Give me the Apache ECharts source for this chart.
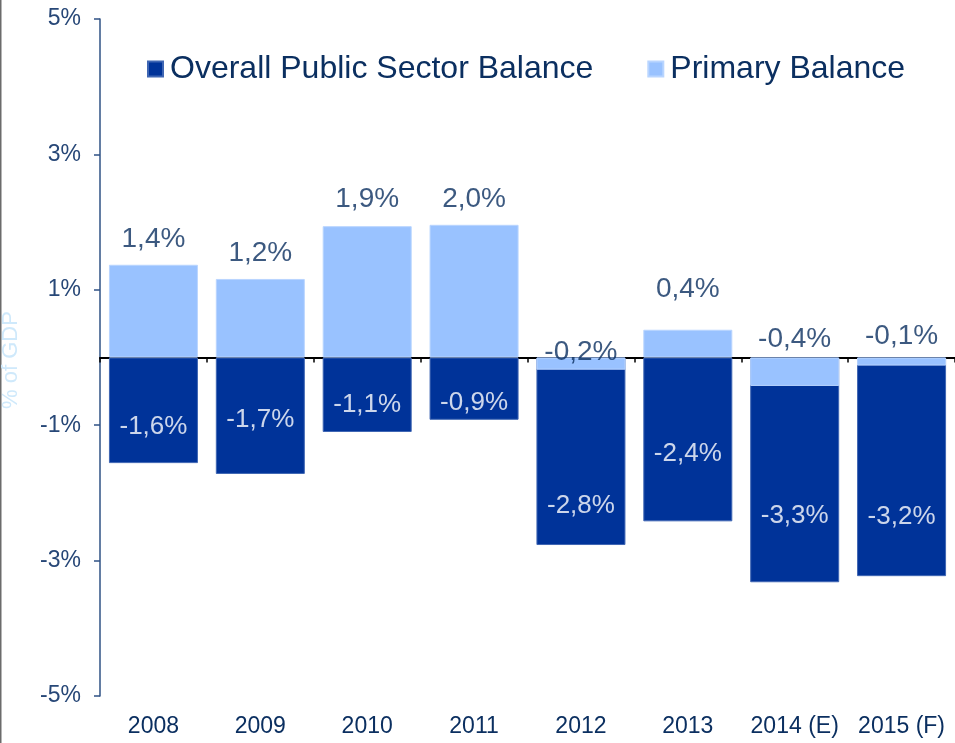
<!DOCTYPE html>
<html>
<head>
<meta charset="utf-8">
<script src="https://cdn.jsdelivr.net/npm/echarts@6/dist/echarts.min.js"></script>
<style>
html,body{margin:0;padding:0;background:#fff;}
#chart{width:955px;height:743px;}
</style>
</head>
<body>
<div id="chart"></div>
<script>
// ---- data ----
var categories = ['2008', '2009', '2010', '2011', '2012', '2013', '2014 (E)', '2015 (F)'];
var overallBalance = [-1.56, -1.72, -1.10, -0.92, -2.77, -2.42, -3.32, -3.23];
var primaryBalance = [1.37, 1.16, 1.94, 1.96, -0.18, 0.41, -0.42, -0.12];
// where each value label sits (in % of GDP)
var overallLabelAt = [-1.03, -0.92, -0.70, -0.67, -2.19, -1.43, -2.34, -2.36];
var primaryLabelAt = [1.75, 1.54, 2.33, 2.33, 0.08, 1.01, 0.27, 0.32];
var yTicks = { min: -5, max: 5, step: 2 };
var seriesNames = ['Overall Public Sector Balance', 'Primary Balance'];

function fmt(v) { return v.toFixed(1).replace('.', ',') + '%'; }

var FONT = '"Liberation Sans", Arial, sans-serif';
var NAVY = '#0b2f60';
var DARK = '#003399';
var LIGHT = '#99c2ff';

var chart = echarts.init(document.getElementById('chart'), null, { renderer: 'canvas' });

function labelSeries(values, anchors, color, size) {
  return {
    type: 'scatter',
    xAxisIndex: 0,
    yAxisIndex: 0,
    silent: true,
    z: 10,
    symbolSize: 1,
    itemStyle: { color: 'transparent' },
    data: anchors.map(function (a, i) { return [i, a, values[i]]; }),
    label: {
      show: true,
      position: 'inside',
      formatter: function (p) { return fmt(p.value[2]); },
      color: color,
      fontSize: size,
      fontFamily: FONT
    },
    tooltip: { show: false }
  };
}

var option = {
  animation: false,
  backgroundColor: '#ffffff',
  grid: { left: 100, top: 19, width: 860, height: 677, containLabel: false },
  legend: {
    data: seriesNames,
    left: 142,
    top: 48,
    icon: 'rect',
    itemWidth: 15,
    itemHeight: 15,
    itemGap: 54,
    textStyle: { color: NAVY, fontSize: 32, fontFamily: FONT, padding: [0, 0, 0, 2] }
  },
  xAxis: [
    {
      type: 'category',
      data: categories,
      position: 'bottom',
      axisLine: { show: false, onZero: false },
      axisTick: { show: false },
      axisLabel: { color: NAVY, fontSize: 23, fontFamily: FONT, margin: 19, interval: 0 },
      splitLine: { show: false }
    },
    {
      type: 'category',
      data: categories,
      position: 'bottom',
      axisLine: { show: true, onZero: true, lineStyle: { color: '#000000', width: 2 } },
      axisTick: { show: true, inside: false, length: 5, lineStyle: { color: '#000000', width: 1.5 } },
      axisLabel: { show: false },
      splitLine: { show: false }
    }
  ],
  yAxis: {
    type: 'value',
    min: yTicks.min,
    max: yTicks.max,
    interval: yTicks.step,
    axisLine: { show: true, onZero: false, lineStyle: { color: '#2f5285', width: 1.5 } },
    axisTick: { show: true, length: 6, lineStyle: { color: '#2f5285', width: 1.5 } },
    axisLabel: {
      color: '#274777', fontSize: 23, fontFamily: FONT, margin: 19,
      formatter: function (v) { return v + '%'; }
    },
    splitLine: { show: false }
  },
  series: [
    {
      name: seriesNames[0],
      type: 'bar',
      xAxisIndex: 0,
      data: overallBalance,
      barWidth: 89,
      barGap: '-100%',
      itemStyle: { color: DARK, borderColor: '#3f66b3', borderWidth: 1 },
      z: 2
    },
    {
      name: seriesNames[1],
      type: 'bar',
      xAxisIndex: 0,
      data: primaryBalance,
      barWidth: 89,
      barGap: '-100%',
      itemStyle: { color: LIGHT, borderColor: '#b9d5ff', borderWidth: 1 },
      z: 3
    },
    labelSeries(overallBalance, overallLabelAt, '#ffffff', 26),
    labelSeries(primaryBalance, primaryLabelAt, NAVY, 28)
  ],
  graphic: [
    {
      type: 'rect',
      left: 0, top: 0,
      shape: { x: 0, y: 0, width: 1.5, height: 743 },
      style: { fill: '#6b6b6b' },
      silent: true
    },
    {
      type: 'text',
      x: 11,
      y: 360,
      rotation: Math.PI / 2,
      style: {
        text: '% of GDP',
        fill: '#cfe9fb',
        font: '22px ' + FONT,
        align: 'center',
        verticalAlign: 'middle'
      },
      silent: true
    }
  ]
};

chart.setOption(option);
</script>
</body>
</html>
